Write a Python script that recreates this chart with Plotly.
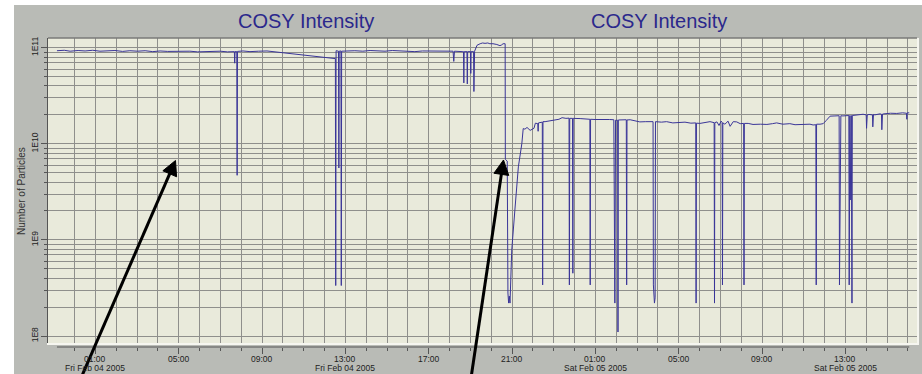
import math
import plotly.graph_objects as go
import pandas as pd

# ---------------- data ----------------
feb03_times = ["23:09", "23:30", "23:47"]
feb03_values = [9.3e10, 9.4e10, 9.2e10]

feb04_times = [
    "00:10", "00:30", "00:52", "01:13", "01:35", "01:56", "02:18", "02:39", "03:01", "03:23",
    "03:45", "04:06", "04:28", "04:49", "05:10", "05:32", "05:54", "06:15", "06:37", "06:59",
    "07:20", "07:40", "07:41", "07:42", "07:47", "07:48", "07:49", "08:05", "08:25", "08:50",
    "09:14", "12:31", "12:32", "12:33", "12:40", "12:41", "12:42", "12:47", "12:48", "12:49",
    "13:27", "13:50", "14:11", "14:33", "14:54", "15:15", "15:37", "15:58", "16:20", "16:42",
    "17:03", "17:25", "17:47", "18:10", "18:12", "18:14", "18:36", "18:40", "18:41", "18:42",
    "18:50", "18:51", "18:52", "19:00", "19:01", "19:02", "19:09", "19:10", "19:12", "19:19",
    "19:28", "19:35", "19:42", "19:50", "19:56", "20:05", "20:16", "20:25", "20:30", "20:34",
    "20:40", "20:40:30", "20:46", "20:47", "20:48", "20:50", "20:52", "20:54", "20:56", "20:59",
    "21:08", "21:18", "21:28", "21:32", "21:37", "21:43", "21:52", "22:03", "22:07", "22:14",
    "22:15", "22:16", "22:27", "22:28", "22:29", "22:35", "22:50", "23:04", "23:15", "23:24",
    "23:35", "23:44", "23:45", "23:46", "23:54", "23:55", "23:56",
]
feb04_values = [
    9.35e10, 9.25e10, 9.4e10, 9.2e10, 9.3e10, 9.35e10, 9.15e10, 9.3e10, 9.2e10, 9.3e10,
    9.1e10, 9.25e10, 9.15e10, 9.2e10, 9.1e10, 9.2e10, 9.05e10, 9.15e10, 9.1e10, 9.2e10,
    9.05e10, 9.1e10, 6.9e10, 9.1e10, 9.1e10, 4.7e9, 9.15e10, 9.25e10, 9.1e10, 9.2e10,
    9.25e10, 7.7e10, 3.35e8, 9.3e10, 9.2e10, 5.6e9, 9.2e10, 9.25e10, 3.35e8, 9.2e10,
    9.3e10, 9.2e10, 9.35e10, 9.25e10, 9.2e10, 9.35e10, 9.3e10, 9.2e10, 9.1e10, 9.25e10,
    9.25e10, 9.3e10, 9.15e10, 9.2e10, 7.2e10, 9.2e10, 9.1e10, 9.1e10, 4.3e10, 9.1e10,
    9.1e10, 4.2e10, 9.1e10, 9.1e10, 5.4e10, 9.1e10, 9.1e10, 3.5e10, 9.2e10, 1.06e11,
    1.1e11, 1.12e11, 1.11e11, 1.12e11, 1.1e11, 1.1e11, 1.08e11, 1.05e11, 1.07e11, 1.1e11,
    1.1e11, 6.9e9, 6.6e9, 3.4e8, 2.8e8, 2.2e8, 2.6e8, 2.2e8, 3.4e8, 7.85e8,
    2.04e9, 5.75e9, 1.0e10, 1.44e10, 1.42e10, 1.48e10, 1.38e10, 1.45e10, 1.64e10, 1.62e10,
    1.35e10, 1.65e10, 1.68e10, 3.4e8, 1.7e10, 1.7e10, 1.74e10, 1.76e10, 1.8e10, 1.87e10,
    1.84e10, 1.85e10, 3.4e8, 1.84e10, 1.84e10, 4.5e8, 1.84e10,
]

feb05_times = [
    "00:16", "00:30", "00:44", "00:45", "00:46", "00:59", "01:15", "01:28", "01:40", "01:53",
    "01:54", "01:55", "01:56", "01:58", "02:04", "02:05", "02:06", "02:29", "02:30", "02:31",
    "02:40", "02:55", "03:08", "03:25", "03:46", "03:47", "03:48", "03:50", "03:52", "03:53",
    "04:10", "04:25", "04:43", "05:00", "05:18", "05:35", "05:49", "05:50", "05:51", "06:01",
    "06:15", "06:30", "06:42", "06:43", "06:44", "06:50", "06:56", "07:02", "07:05", "07:06",
    "07:07", "07:13", "07:22", "07:28", "07:37", "07:47", "07:57", "08:07", "08:08", "08:09",
    "08:20", "08:34", "08:55", "09:14", "09:30", "09:42", "10:00", "10:20", "10:35", "10:49",
    "11:05", "11:18", "11:27", "11:35", "11:36", "11:37", "11:47", "11:56", "12:05", "12:16",
    "12:30", "12:42", "12:43", "12:45", "12:46", "12:47", "12:53", "13:04", "13:10", "13:11",
    "13:13", "13:14", "13:17", "13:19", "13:20", "13:35", "13:51", "14:00", "14:01", "14:03",
    "14:08", "14:18", "14:19", "14:21", "14:25", "14:40", "14:44", "14:45", "14:47", "14:51",
    "15:10", "15:28", "15:45", "15:56", "15:57", "15:58", "16:04",
]
feb05_values = [
    1.83e10, 1.81e10, 1.8e10, 3.4e8, 1.8e10, 1.79e10, 1.8e10, 1.78e10, 1.79e10, 1.78e10,
    2.2e8, 4.5e8, 2.2e8, 1.76e10, 1.76e10, 1.1e8, 1.77e10, 1.78e10, 3.4e8, 1.77e10,
    1.78e10, 1.73e10, 1.69e10, 1.7e10, 1.7e10, 3.4e8, 2.2e8, 2.2e8, 2.5e8, 1.7e10,
    1.68e10, 1.7e10, 1.65e10, 1.67e10, 1.68e10, 1.64e10, 1.65e10, 2.2e8, 1.64e10, 1.63e10,
    1.66e10, 1.7e10, 1.66e10, 2.2e8, 1.66e10, 1.69e10, 1.55e10, 1.72e10, 1.68e10, 3.4e8,
    1.65e10, 1.6e10, 1.72e10, 1.52e10, 1.7e10, 1.69e10, 1.62e10, 1.63e10, 3.4e8, 1.63e10,
    1.63e10, 1.59e10, 1.6e10, 1.59e10, 1.62e10, 1.65e10, 1.6e10, 1.62e10, 1.58e10, 1.59e10,
    1.61e10, 1.6e10, 1.57e10, 1.58e10, 3.4e8, 1.6e10, 1.6e10, 1.62e10, 1.75e10, 1.94e10,
    1.95e10, 1.96e10, 3.4e8, 1.96e10, 2.45e9, 1.96e10, 1.95e10, 1.98e10, 1.97e10, 3.4e8,
    1.97e10, 2.6e9, 1.97e10, 2.2e8, 1.97e10, 1.99e10, 2.03e10, 2.0e10, 1.45e10, 2.0e10,
    2.02e10, 2.0e10, 1.5e10, 2.02e10, 2.0e10, 2.05e10, 2.03e10, 1.4e10, 2.04e10, 2.05e10,
    2.08e10, 2.07e10, 2.1e10, 2.08e10, 1.8e10, 2.1e10, 2.1e10,
]

tick_times = ["2005-02-04 01:00", "2005-02-04 05:00", "2005-02-04 09:00", "2005-02-04 13:00",
              "2005-02-04 17:00", "2005-02-04 21:00", "2005-02-05 01:00", "2005-02-05 05:00",
              "2005-02-05 09:00", "2005-02-05 13:00"]
tick_hour_labels = ["01:00", "05:00", "09:00", "13:00", "17:00",
                    "21:00", "01:00", "05:00", "09:00", "13:00"]
tick_date_labels = ["Fri Feb 04 2005", "", "", "Fri Feb 04 2005", "",
                    "", "Sat Feb 05 2005", "", "", "Sat Feb 05 2005"]
y_tick_vals = [1e8, 1e9, 1e10, 1e11]
y_tick_labels = ["1E8", "1E9", "1E10", "1E11"]
chart_title = "COSY Intensity"
y_title = "Number of Particles"

# ---------------- build ----------------
times = (["2005-02-03 " + t for t in feb03_times]
         + ["2005-02-04 " + t for t in feb04_times]
         + ["2005-02-05 " + t for t in feb05_times])
values = feb03_values + feb04_values + feb05_values
time_index = pd.to_datetime(times, format="mixed")

GREY = "#b9bbb6"
PLOT_BG = "#e9eadb"
GRID = "#8f8f8c"
FONT = "Liberation Sans, Arial, sans-serif"

L, R, T, B = 48, 5, 38, 27
W, H = 922, 374
pw, ph = W - L - R, H - T - B


def px(xp):
    return (xp - L) / pw


def py(yp):
    return (H - B - yp) / ph


hour_ticks = pd.date_range("2005-02-04 00:00", "2005-02-05 16:00", freq="1h")
minor_y = [k * 10 ** d for d in range(8, 11) for k in range(2, 10)]

fig = go.Figure()
fig.add_trace(go.Scatter(x=time_index, y=values, mode="lines",
                         line=dict(color="#3a3598", width=1), hoverinfo="skip",
                         showlegend=False))

fig.update_layout(
    width=W, height=H,
    margin=dict(l=L, r=R, t=T, b=B, pad=0),
    paper_bgcolor=GREY, plot_bgcolor=PLOT_BG,
    font=dict(family=FONT, size=8, color="#222222"),
    showlegend=False,
)
fig.update_xaxes(
    type="date",
    range=["2005-02-03 22:43:12", "2005-02-05 16:26:18"],
    tickmode="array", tickvals=tick_times, showticklabels=False,
    ticks="outside", ticklen=6, tickcolor="#555555", tickwidth=1,
    showgrid=True, gridcolor=GRID, gridwidth=1,
    zeroline=False, showline=False,
    minor=dict(tickmode="array", tickvals=list(hour_ticks), ticks="outside", ticklen=3,
               tickcolor="#555555", showgrid=True, gridcolor=GRID, gridwidth=1),
)
fig.update_yaxes(
    type="log", range=[7.8855, 11.101],
    tickmode="array", tickvals=y_tick_vals, ticktext=y_tick_labels,
    tickangle=-90, ticks="outside", ticklen=6, tickcolor="#555555",
    tickfont=dict(size=8.5, color="#222222", family=FONT),
    showgrid=True, gridcolor=GRID, gridwidth=1,
    zeroline=False, showline=True, linecolor="#555555", linewidth=1,
    minor=dict(tickmode="array", tickvals=minor_y, ticks="outside", ticklen=3,
               tickcolor="#555555", showgrid=True, gridcolor=GRID, gridwidth=1),
)


def arrow_shapes(tail, tip, head_len=14.5, head_half=7.5, width=3):
    """Black arrow (shaft + filled head) given pixel tail/tip positions."""
    dx, dy = tip[0] - tail[0], tip[1] - tail[1]
    n = math.hypot(dx, dy)
    ux, uy = dx / n, dy / n
    bx, by = tip[0] - head_len * ux, tip[1] - head_len * uy
    c1 = (bx - head_half * uy, by + head_half * ux)
    c2 = (bx + head_half * uy, by - head_half * ux)
    shaft = dict(type="line", xref="paper", yref="paper",
                 x0=px(tail[0]), y0=py(tail[1]), x1=px(bx + 2 * ux), y1=py(by + 2 * uy),
                 line=dict(color="black", width=width), layer="above")
    path = "M {:.5f} {:.5f} L {:.5f} {:.5f} L {:.5f} {:.5f} Z".format(
        px(tip[0]), py(tip[1]), px(c1[0]), py(c1[1]), px(c2[0]), py(c2[1]))
    head = dict(type="path", xref="paper", yref="paper", path=path,
                fillcolor="black", line=dict(color="black", width=1), layer="above")
    return [shaft, head]


shapes = [
    dict(type="rect", xref="paper", yref="paper", x0=px(0), x1=px(W), y0=py(5), y1=py(0),
         fillcolor="white", line=dict(width=0), layer="above"),
    dict(type="rect", xref="paper", yref="paper", x0=px(0), x1=px(14), y0=py(H), y1=py(0),
         fillcolor="white", line=dict(width=0), layer="above"),
    dict(type="rect", xref="paper", yref="paper", x0=px(L - 1), x1=px(919), y0=py(345), y1=py(343),
         fillcolor="#f6f6f0", line=dict(width=0), layer="above"),
    dict(type="rect", xref="paper", yref="paper", x0=px(L - 1), x1=px(919), y0=py(347), y1=py(345),
         fillcolor=GREY, line=dict(width=0), layer="above"),
    dict(type="rect", xref="paper", yref="paper", x0=1, x1=px(919), y0=py(345), y1=1,
         fillcolor="#f6f6f0", line=dict(width=0), layer="above"),
    dict(type="line", xref="paper", yref="paper", x0=0, x1=1, y0=1, y1=1,
         line=dict(color="#7a7a78", width=1.5), layer="above"),
    dict(type="line", xref="x", yref="paper", x0=time_index[0], x1=time_index[-1], y0=0, y1=0,
         line=dict(color="#555555", width=1), layer="above"),
]
shapes += arrow_shapes((81, 378), (175.5, 160.5))
shapes += arrow_shapes((471, 378), (503.5, 160))
fig.update_layout(shapes=shapes)

ann = [
    dict(text=chart_title, xref="paper", yref="paper", x=px(306), y=py(21), showarrow=False,
         xanchor="center", yanchor="middle", font=dict(size=20, color="#2b288c", family=FONT)),
    dict(text=chart_title, xref="paper", yref="paper", x=px(659), y=py(21), showarrow=False,
         xanchor="center", yanchor="middle", font=dict(size=20, color="#2b288c", family=FONT)),
    dict(text=y_title, xref="paper", yref="paper", x=px(21), y=py(191), showarrow=False,
         textangle=-90, xanchor="center", yanchor="middle",
         font=dict(size=10, color="#333333", family=FONT)),
]
for t, hl, dl in zip(tick_times, tick_hour_labels, tick_date_labels):
    ann.append(dict(text=hl, xref="x", yref="paper", x=t, y=py(359), showarrow=False,
                    xanchor="center", yanchor="middle",
                    font=dict(size=8.5, color="#222222", family=FONT)))
    if dl:
        ann.append(dict(text=dl, xref="x", yref="paper", x=t, y=py(368.5), showarrow=False,
                        xanchor="center", yanchor="middle",
                        font=dict(size=8.5, color="#222222", family=FONT)))
fig.update_layout(annotations=ann)

fig.write_html("out.html", config={"displayModeBar": False},
               post_script="document.body.style.margin='0';document.body.style.overflow='hidden';"
                           "document.body.style.background='" + GREY + "';"
                           "document.documentElement.style.overflow='hidden';")
